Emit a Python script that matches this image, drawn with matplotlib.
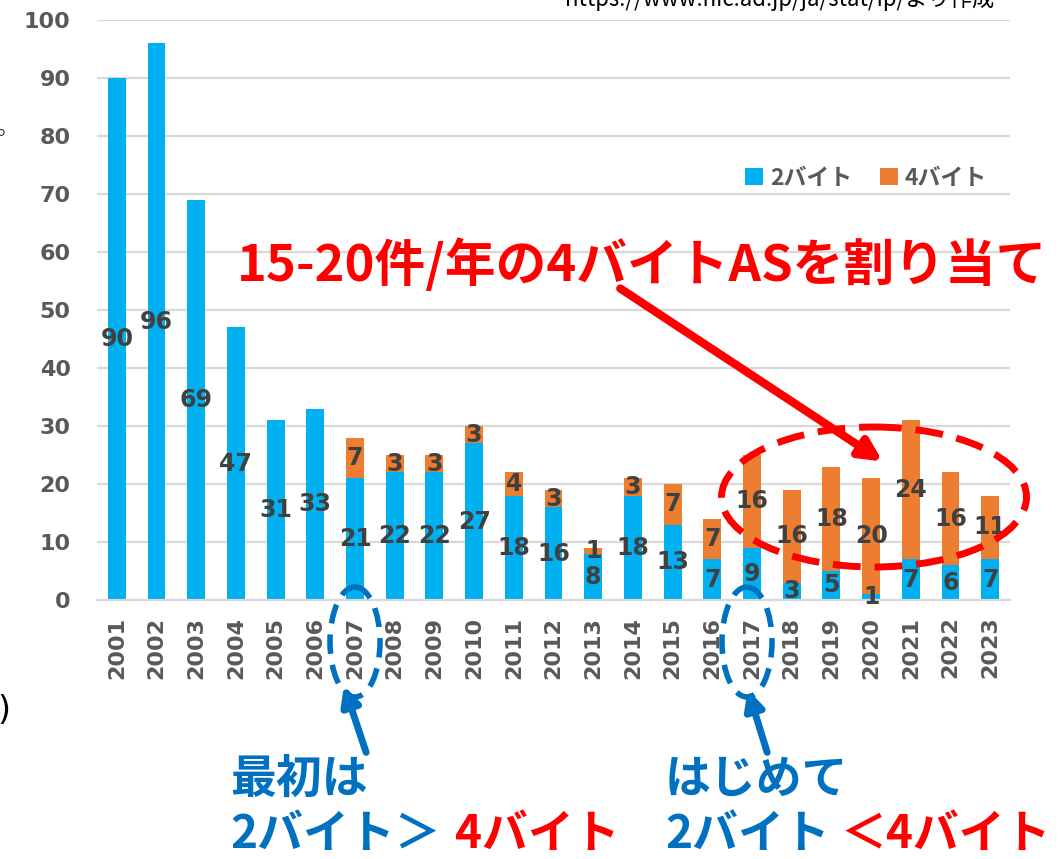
import numpy as np
import matplotlib
matplotlib.use('Agg')
import matplotlib.pyplot as plt
from matplotlib.patches import Ellipse, FancyArrowPatch

years = [str(y) for y in range(2001, 2024)]
two_byte = [90, 96, 69, 47, 31, 33, 21, 22, 22, 27, 18, 16, 8, 18, 13, 7, 9, 3, 5, 1, 7, 6, 7]
four_byte = [0, 0, 0, 0, 0, 0, 7, 3, 3, 3, 4, 3, 1, 3, 7, 7, 16, 16, 18, 20, 24, 16, 11]
legend_labels = ['2バイト', '4バイト']
y_ticks = [0, 10, 20, 30, 40, 50, 60, 70, 80, 90, 100]

BLUE = '#00B0F0'
ORANGE = '#ED7D31'
GRID = '#D9D9D9'
TICK = '#595959'
LABEL = '#404040'
TBLUE = '#0070C0'
RED = '#FF0000'
JP = ['Noto Sans CJK JP', 'DejaVu Sans']
NUM = ['DejaVu Sans', 'Noto Sans CJK JP']

W, H = 1064, 859


def main():
    fig = plt.figure(figsize=(W / 100, H / 100), dpi=100)
    ax = fig.add_axes([97 / W, 1 - 600 / H, (1010 - 97) / W, (600 - 20) / H])

    x = np.arange(len(years))
    b1 = ax.bar(x, two_byte, width=0.45, color=BLUE, label=legend_labels[0], zorder=2)
    b2 = ax.bar(x, four_byte, width=0.45, bottom=two_byte, color=ORANGE,
                label=legend_labels[1], zorder=2)
    ax.bar_label(b1, labels=[str(v) if v else '' for v in two_byte], label_type='center',
                 fontsize=17, fontweight='bold', color=LABEL, family=NUM)
    ax.bar_label(b2, labels=[str(v) if v else '' for v in four_byte], label_type='center',
                 fontsize=17, fontweight='bold', color=LABEL, family=NUM)

    ax.set_xlim(-0.5, len(years) - 0.5)
    ax.set_ylim(0, 100)
    ax.set_yticks(y_ticks)
    ax.set_xticks(x)
    ax.set_xticklabels(years, rotation=90)
    ax.yaxis.grid(True, color=GRID, lw=1.6, zorder=0)
    ax.set_axisbelow(True)
    for s in ['top', 'right', 'left']:
        ax.spines[s].set_visible(False)
    ax.spines['bottom'].set_color(GRID)
    ax.spines['bottom'].set_linewidth(1.6)
    ax.tick_params(axis='both', length=0, colors=TICK, labelsize=16)
    ax.tick_params(axis='y', pad=19)
    ax.tick_params(axis='x', pad=12)
    for t in ax.get_xticklabels() + ax.get_yticklabels():
        t.set_fontweight('bold')
        t.set_family(NUM)

    leg = ax.legend(loc='center', bbox_to_anchor=(866 / W, 1 - 178 / H),
                    bbox_transform=fig.transFigure, ncol=2, frameon=False,
                    handlelength=0.8, handleheight=0.8, handletextpad=0.3,
                    columnspacing=1.2, prop={'family': JP, 'weight': 'bold', 'size': 16.5})
    for t in leg.get_texts():
        t.set_color(TICK)

    # overlay in pixel coords for annotations
    ov = fig.add_axes([0, 0, 1, 1], zorder=5)
    ov.set_xlim(0, W)
    ov.set_ylim(H, 0)
    ov.axis('off')
    ov.patch.set_alpha(0)

    ov.text(565, 6, 'https://www.nic.ad.jp/ja/stat/ip/より作成', fontsize=16,
            family=JP, color='black', va='baseline', ha='left')
    ov.text(-4, 128, '。', fontsize=16, family=JP, color='#333333', va='center', ha='left')
    ov.text(-3, 710, ')', fontsize=24, family=NUM, color='black', va='center', ha='left')

    ov.text(237, 265, '15-20件/年の4バイトASを割り当て', fontsize=36.5, fontweight='bold',
            family=JP, color=RED, va='center', ha='left')
    ov.add_patch(FancyArrowPatch((618, 287), (885, 463), arrowstyle='-|>',
                                 mutation_scale=32, lw=6, color=RED))
    ov.add_patch(Ellipse((874, 497), 305, 140, fill=False, ec=RED, lw=5,
                         ls=(0, (4, 2))))

    ov.add_patch(Ellipse((355, 642), 50, 110, fill=False, ec=TBLUE, lw=4,
                         ls=(0, (3.5, 2))))
    ov.add_patch(Ellipse((747, 642), 50, 110, fill=False, ec=TBLUE, lw=4,
                         ls=(0, (3.5, 2))))
    ov.add_patch(FancyArrowPatch((367, 755), (343, 683), arrowstyle='-|>',
                                 mutation_scale=28, lw=5, color=TBLUE))
    ov.add_patch(FancyArrowPatch((768, 755), (747, 687), arrowstyle='-|>',
                                 mutation_scale=28, lw=5, color=TBLUE))

    fs = 33
    ov.text(230, 780, '最初は', fontsize=fs, fontweight='bold', family=JP,
            color=TBLUE, va='center', ha='left')
    ov.text(230, 835, '2バイト＞', fontsize=fs, fontweight='bold', family=JP,
            color=TBLUE, va='center', ha='left')
    ov.text(455, 835, '4バイト', fontsize=fs, fontweight='bold', family=JP,
            color=RED, va='center', ha='left')
    ov.text(665, 780, 'はじめて', fontsize=fs, fontweight='bold', family=JP,
            color=TBLUE, va='center', ha='left')
    ov.text(665, 835, '2バイト', fontsize=fs, fontweight='bold', family=JP,
            color=TBLUE, va='center', ha='left')
    ov.text(840, 835, '＜4バイト', fontsize=fs, fontweight='bold', family=JP,
            color=RED, va='center', ha='left')

    fig.savefig('out.png', dpi=100)


if __name__ == "__main__":
    main()
